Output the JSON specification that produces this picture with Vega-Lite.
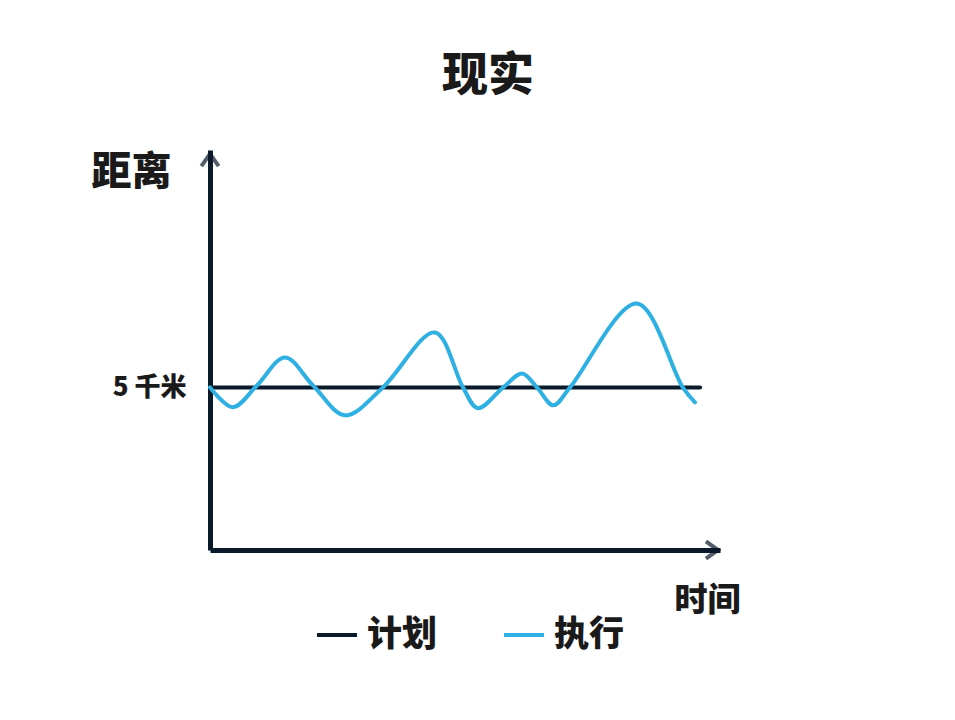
{
  "$schema": "https://vega.github.io/schema/vega-lite/v6.json",
  "width": 510,
  "height": 400,
  "autosize": {"type": "none"},
  "padding": {"left": 210, "top": 150, "right": 235, "bottom": 170},
  "background": "white",
  "view": {"stroke": null},
  "title": {
    "text": "现实",
    "fontSize": 46,
    "font": "Noto Sans CJK SC",
    "fontWeight": 900,
    "color": "#1a1a1a",
    "anchor": "middle",
    "offset": 46,
    "dx": 23
  },
  "datasets": {
    "lines": [
      {"t": 0, "d": 5.0, "s": "计划"},
      {"t": 9.61, "d": 5.0, "s": "计划"},
      {"t": 0.0, "d": 5.0, "s": "执行"},
      {"t": 0.45, "d": 4.39, "s": "执行"},
      {"t": 0.92, "d": 5.06, "s": "执行"},
      {"t": 1.47, "d": 5.92, "s": "执行"},
      {"t": 2.02, "d": 5.06, "s": "执行"},
      {"t": 2.65, "d": 4.14, "s": "执行"},
      {"t": 3.39, "d": 5.0, "s": "执行"},
      {"t": 4.41, "d": 6.69, "s": "执行"},
      {"t": 4.96, "d": 5.0, "s": "执行"},
      {"t": 5.25, "d": 4.36, "s": "执行"},
      {"t": 5.75, "d": 5.0, "s": "执行"},
      {"t": 6.12, "d": 5.43, "s": "执行"},
      {"t": 6.41, "d": 5.0, "s": "执行"},
      {"t": 6.73, "d": 4.45, "s": "执行"},
      {"t": 7.06, "d": 5.0, "s": "执行"},
      {"t": 8.37, "d": 7.58, "s": "执行"},
      {"t": 9.27, "d": 5.0, "s": "执行"},
      {"t": 9.51, "d": 4.54, "s": "执行"}
    ],
    "arrows": [
      {"t": 0, "d": 12.3, "dir": "up"},
      {"t": 10, "d": 0, "dir": "right"}
    ]
  },
  "layer": [
    {
      "data": {"name": "lines"},
      "mark": {"type": "line", "interpolate": "catmull-rom", "strokeWidth": 4, "strokeCap": "round"},
      "encoding": {
        "x": {
          "field": "t", "type": "quantitative",
          "scale": {"domain": [0, 10], "nice": false, "zero": false},
          "axis": {
            "domainColor": "#0b1a2b", "domainWidth": 5, "ticks": false, "labels": false, "grid": false,
            "title": "时间", "titleFont": "Noto Sans CJK SC", "titleFontWeight": 900, "titleFontSize": 33,
            "titleColor": "#1a1a1a", "titleAngle": 0, "titleX": 497, "titleY": 50,
            "titleAlign": "center", "titleBaseline": "middle"
          }
        },
        "y": {
          "field": "d", "type": "quantitative",
          "scale": {"domain": [0, 12.3], "nice": false, "zero": false},
          "axis": {
            "domainColor": "#0b1a2b", "domainWidth": 5, "ticks": false, "grid": false,
            "values": [5], "labelExpr": "'5    千米'", "labelFont": "Noto Sans CJK SC",
            "labelFontWeight": 900, "labelFontSize": 26, "labelColor": "#1a1a1a", "labelPadding": 24,
            "title": "距离", "titleFont": "Noto Sans CJK SC", "titleFontWeight": 900, "titleFontSize": 40,
            "titleColor": "#1a1a1a", "titleAngle": 0, "titleX": -79, "titleY": 22,
            "titleAlign": "center", "titleBaseline": "middle"
          }
        },
        "color": {
          "field": "s", "type": "nominal",
          "scale": {"domain": ["计划", "执行"], "range": ["#0b1a2b", "#2eb0e2"]},
          "legend": {
            "title": null, "orient": "none", "direction": "horizontal",
            "legendX": 105, "legendY": 463,
            "symbolType": "stroke", "symbolSize": 1600, "symbolStrokeWidth": 4,
            "labelFont": "Noto Sans CJK SC", "labelFontWeight": 900, "labelFontSize": 35,
            "labelColor": "#1a1a1a", "columnPadding": 58, "labelOffset": 8
          }
        }
      }
    },
    {
      "data": {"name": "arrows"},
      "transform": [{"filter": "datum.dir == 'up'"}],
      "mark": {"type": "point", "shape": "M-1,0.7L0,-0.7L1,0.7", "filled": false, "size": 300, "strokeWidth": 4, "color": "#0b1a2b", "yOffset": 10, "clip": false},
      "encoding": {
        "x": {"field": "t", "type": "quantitative"},
        "y": {"field": "d", "type": "quantitative"}
      }
    },
    {
      "data": {"name": "arrows"},
      "transform": [{"filter": "datum.dir == 'right'"}],
      "mark": {"type": "point", "shape": "M-0.7,-1L0.7,0L-0.7,1", "filled": false, "size": 300, "strokeWidth": 4, "color": "#0b1a2b", "xOffset": -8, "clip": false},
      "encoding": {
        "x": {"field": "t", "type": "quantitative"},
        "y": {"field": "d", "type": "quantitative"}
      }
    }
  ]
}
